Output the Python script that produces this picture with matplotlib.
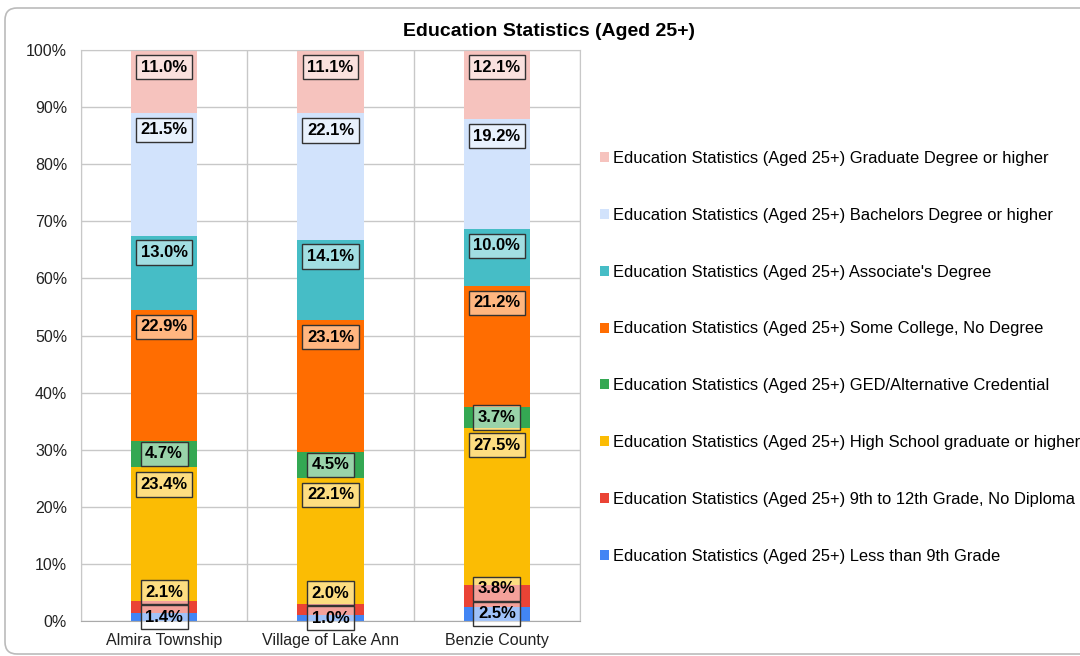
import matplotlib.pyplot as plt
from matplotlib.patches import FancyBboxPatch, Patch
from matplotlib.ticker import FuncFormatter

plt.rcParams['font.family'] = ['Liberation Sans', 'DejaVu Sans']

categories = ['Almira Township', 'Village of Lake Ann', 'Benzie County']
prefix = 'Education Statistics (Aged 25+) '
series_names = ['Less than 9th Grade', '9th to 12th Grade, No Diploma',
                'High School graduate or higher', 'GED/Alternative Credential',
                'Some College, No Degree', "Associate's Degree",
                'Bachelors Degree or higher', 'Graduate Degree or higher']

# percent of population aged 25+, bottom to top of each stack
less_9th = [1.4, 1.0, 2.5]
grade_9_12 = [2.1, 2.0, 3.8]
high_school = [23.4, 22.1, 27.5]
ged = [4.7, 4.5, 3.7]
some_college = [22.9, 23.1, 21.2]
associates = [13.0, 14.1, 10.0]
bachelors = [21.5, 22.1, 19.2]
graduate = [11.0, 11.1, 12.1]

series = [less_9th, grade_9_12, high_school, ged, some_college,
          associates, bachelors, graduate]
colors = ['#4285f4', '#ea4335', '#fbbc04', '#34a853', '#ff6d01',
          '#46bdc6', '#d2e3fc', '#f6c3be']

fig = plt.figure(figsize=(10.8, 6.56), dpi=100)
ax = fig.add_axes([81 / 1080, 1 - 621 / 656, (580 - 81) / 1080, 571 / 656])

x = list(range(len(categories)))
bottoms = [0.0] * len(categories)
bar_w = 0.4
seg_info = [[] for _ in categories]
for vals, col in zip(series, colors):
    ax.bar(x, vals, bar_w, bottom=bottoms, color=col, zorder=2)
    for i, v in enumerate(vals):
        seg_info[i].append((bottoms[i], v))
    bottoms = [b + v for b, v in zip(bottoms, vals)]

# data labels: near top of segment, centred for thin ones, pushed up on overlap
px_per_unit = 571 / 100
for i, segs in enumerate(seg_info):
    prev = None
    for bot, v in segs:
        if v * px_per_unit >= 40:
            c = bot + v - 17 / px_per_unit
        else:
            c = bot + v / 2
        if prev is not None and c < prev + 25 / px_per_unit:
            c = prev + 25 / px_per_unit
        prev = c
        ax.text(i, c, f'{v:.1f}%', ha='center', va='center', fontsize=12,
                fontweight='bold', color='black', zorder=5,
                bbox=dict(boxstyle='square,pad=0.28', facecolor=(1, 1, 1, 0.5),
                          edgecolor='#333333', linewidth=1))

ax.set_xlim(-0.5, 2.5)
ax.set_ylim(0, 100)
ax.set_yticks(range(0, 101, 10))
ax.yaxis.set_major_formatter(FuncFormatter(lambda v, p: f'{v:.0f}%'))
ax.set_xticks(x)
ax.set_xticklabels(categories)
ax.set_xticks([-0.5, 0.5, 1.5, 2.5], minor=True)
ax.tick_params(axis='both', which='both', length=0, labelsize=11.5, colors='#222222')
ax.tick_params(axis='y', pad=10)
ax.tick_params(axis='x', pad=9)
ax.grid(True, axis='y', color='#c8c8c8', linewidth=1, zorder=0)
ax.grid(True, axis='x', which='minor', color='#c8c8c8', linewidth=1, zorder=0)
ax.set_axisbelow(True)
for s in ['top', 'right', 'left']:
    ax.spines[s].set_color('#c8c8c8')
ax.spines['bottom'].set_color('#aaaaaa')

handles = [Patch(facecolor=c, edgecolor='none') for c in colors][::-1]
labels = [prefix + n for n in series_names][::-1]
fig.legend(handles, labels, loc='upper left', bbox_to_anchor=(600 / 1080, 1 - 151 / 656),
           frameon=False, fontsize=11.9, handlelength=0.55, handleheight=0.55,
           handletextpad=0.25, labelspacing=2.53, borderpad=0, borderaxespad=0)

fig.text(549 / 1080, 1 - 31 / 656, 'Education Statistics (Aged 25+)', ha='center',
         va='center', fontsize=14, fontweight='bold')

frame = FancyBboxPatch((5, 2), 1100, 646, boxstyle='round,pad=0,rounding_size=12',
                       transform=None, facecolor='none', edgecolor='#bbbbbb',
                       linewidth=1.2)
fig.patches.append(frame)

fig.savefig('out.png', dpi=100)
